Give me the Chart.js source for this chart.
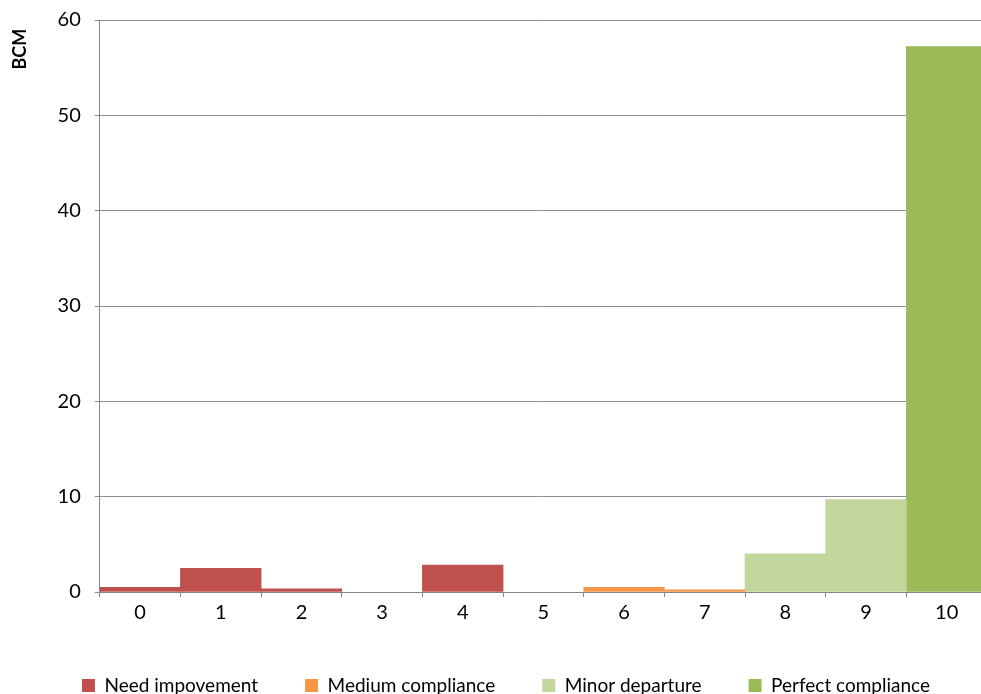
<!DOCTYPE html>
<html>
<head>
<meta charset="utf-8">
<script src="https://cdn.jsdelivr.net/npm/chart.js@4/dist/chart.umd.min.js"></script>
<style>
  html, body { margin: 0; padding: 0; background: #ffffff; overflow: hidden; width: 981px; height: 694px; }
  #wrap { position: absolute; left: 0; top: 0; width: 990px; height: 705px; }
</style>
</head>
<body>
<div id="wrap"><canvas id="c" width="990" height="705"></canvas></div>
<script>
const categories = ['0', '1', '2', '3', '4', '5', '6', '7', '8', '9', '10'];
const needImprovement   = [0.48, 2.48, 0.34, null, 2.83, null, null, null, null, null, null];
const mediumCompliance  = [null, null, null, null, null, null, 0.48, 0.22, null, null, null];
const minorDeparture    = [null, null, null, null, null, null, null, null, 4.0, 9.7, null];
const perfectCompliance = [null, null, null, null, null, null, null, null, null, null, 57.2];
const yTicks = [0, 10, 20, 30, 40, 50, 60];
const seriesNames = ['Need impovement', 'Medium compliance', 'Minor departure', 'Perfect compliance'];

const FONT = 'Lato, "Open Sans", sans-serif';

const legendShift = {
  id: 'legendShift',
  afterLayout(chart) {
    if (chart.legend) { chart.legend.left += 10; chart.legend.right += 10; }
  }
};

new Chart(document.getElementById('c'), {
  type: 'bar',
  data: {
    labels: categories,
    datasets: [
      { label: seriesNames[0], data: needImprovement, backgroundColor: '#C0504D' },
      { label: seriesNames[1], data: mediumCompliance, backgroundColor: '#F79646' },
      { label: seriesNames[2], data: minorDeparture, backgroundColor: '#C3D69B' },
      { label: seriesNames[3], data: perfectCompliance, backgroundColor: '#9BBB59' }
    ]
  },
  options: {
    responsive: false,
    animation: false,
    devicePixelRatio: 1,
    layout: { padding: { left: 5, right: 3, top: 20, bottom: 0 } },
    datasets: { bar: { barPercentage: 1, categoryPercentage: 1, borderWidth: 0 } },
    scales: {
      x: {
        stacked: true,
        grid: { display: true, offset: true, drawOnChartArea: false, drawTicks: true, tickLength: 5, color: '#868686' },
        border: { display: true, color: '#868686' },
        ticks: { color: '#000000', font: { family: FONT, size: 20 }, padding: 4, maxRotation: 0 }
      },
      y: {
        stacked: true,
        min: 0, max: 60,
        afterBuildTicks(scale) { scale.ticks = yTicks.map(v => ({ value: v })); },
        grid: { color: '#8e8e8e', drawTicks: true, tickLength: 5 },
        border: { display: true, color: '#868686' },
        ticks: { color: '#000000', font: { family: FONT, size: 20, lineHeight: 0.6 }, padding: 14 },
        title: { display: true, text: 'BCM  ', align: 'end', color: '#000000',
                 font: { family: FONT, size: 18, weight: 'bold' }, padding: { top: 4, bottom: 13 } }
      }
    },
    plugins: {
      legend: {
        position: 'bottom',
        labels: { boxWidth: 13, boxHeight: 13, padding: 47, color: '#000000',
                  font: { family: FONT, size: 19 } }
      },
      tooltip: { enabled: false }
    }
  },
  plugins: [legendShift]
});
</script>
</body>
</html>
